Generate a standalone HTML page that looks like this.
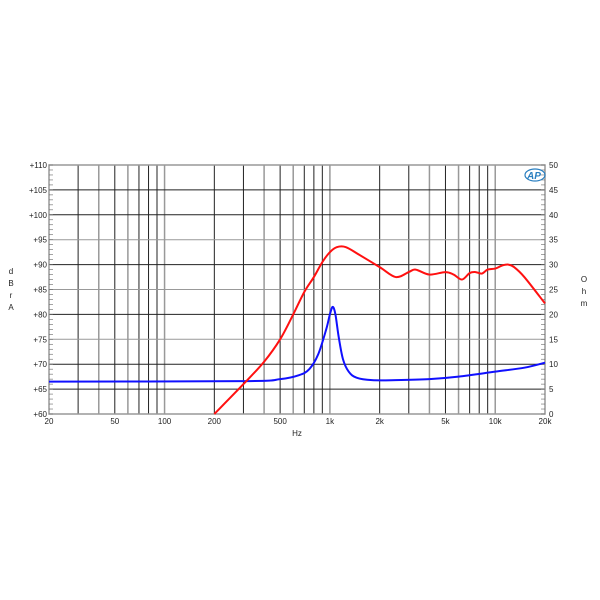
<!DOCTYPE html><html><head><style>body{margin:0;background:#fff}svg{display:block}text{font-family:"Liberation Sans",sans-serif;font-size:8px;fill:#222}</style></head><body>
<svg id="s" width="600" height="600" xmlns="http://www.w3.org/2000/svg"></svg>
<script>
const L=49,R=545,T=165,B=414;
const X=f=>L+(Math.log10(f)-Math.log10(20))/3*(R-L);
const Yd=d=>B-(d-60)/50*(B-T);
const Yo=o=>B-o/50*(B-T);
let h='';
// vertical grid
const fs=[30,40,50,60,70,80,90,100,200,300,400,500,600,700,800,900,1000,2000,3000,4000,5000,6000,7000,8000,9000,10000];
const grey=[40,60,100,400,600,1000,4000,6000,10000];
fs.forEach(f=>{const g=grey.includes(f);h+=`<line x1="${X(f)}" x2="${X(f)}" y1="${T}" y2="${B}" stroke="${g?'#999':'#222'}" stroke-width="${g?1.5:1}"/>`});
for(let d=65;d<110;d+=5){const g=(d%10==5&&d!=105)||d==95;h+=`<line x1="${L}" x2="${R}" y1="${Yd(d)}" y2="${Yd(d)}" stroke="${(d==95||d==85||d==75)?'#999':'#222'}" stroke-width="1"/>`}
h+=`<rect x="${L}" y="${T}" width="${R-L}" height="${B-T}" fill="none" stroke="#999" stroke-width="1.5"/>`;
// minor ticks
for(let i=0;i<=50;i++){const y=B-i*(B-T)/50;h+=`<line x1="${L}" x2="${L+4}" y1="${y}" y2="${y}" stroke="#666" stroke-width=".6"/><line x1="${R-4}" x2="${R}" y1="${y}" y2="${y}" stroke="#666" stroke-width=".6"/>`}
for(let d=60;d<=110;d+=5){h+=`<text x="47" y="${Yd(d)+3}" text-anchor="end">+${d}</text>`}
for(let o=0;o<=50;o+=5){h+=`<text x="549" y="${Yo(o)+3}">${o}</text>`}
[[20,'20'],[50,'50'],[100,'100'],[200,'200'],[500,'500'],[1000,'1k'],[2000,'2k'],[5000,'5k'],[10000,'10k'],[20000,'20k']].forEach(([f,t])=>h+=`<text x="${X(f)}" y="424" text-anchor="middle">${t}</text>`);
h+=`<text x="297" y="436" text-anchor="middle">Hz</text>`;
['d','B','r','A'].forEach((c,i)=>h+=`<text x="11" y="${274+i*12}" text-anchor="middle">${c}</text>`);
['O','h','m'].forEach((c,i)=>h+=`<text x="584" y="${282+i*12}" text-anchor="middle">${c}</text>`);
h+=`<text x="534" y="179" text-anchor="middle" style="font-size:10px;font-weight:bold;font-style:italic;fill:#2a7fc0">AP</text><ellipse cx="535" cy="175" rx="10" ry="6" fill="none" stroke="#2a7fc0" stroke-width="1.2"/>`;
function path(pts,Y,col){pts=pts.map(p=>[X(p[0]),Y(p[1])]);let d='M'+pts[0];for(let i=0;i<pts.length-1;i++){const p0=pts[i-1]||pts[i],p1=pts[i],p2=pts[i+1],p3=pts[i+2]||p2;d+=` C${p1[0]+(p2[0]-p0[0])/6},${p1[1]+(p2[1]-p0[1])/6} ${p2[0]-(p3[0]-p1[0])/6},${p2[1]-(p3[1]-p1[1])/6} ${p2[0]},${p2[1]}`}return `<path d="${d}" fill="none" stroke="${col}" stroke-width="2"/>`}
const red=[[200,60],[300,66],[400,70.5],[500,75],[600,80],[700,84.5],[800,87.5],[900,90.5],[1000,92.5],[1100,93.5],[1250,93.5],[1500,92],[2000,89.5],[2500,87.5],[3000,88.5],[3300,89],[4000,88],[5000,88.5],[5600,88],[6300,87],[7000,88.3],[7600,88.5],[8300,88.2],[9000,89],[10000,89.2],[11000,89.8],[12000,90],[13000,89.5],[15000,87.5],[20000,82.2]];
const blue=[[20,6.5],[300,6.6],[500,7],[650,7.8],[750,9],[850,12],[950,17],[1000,20],[1040,21.5],[1080,20],[1130,15.5],[1200,11],[1300,8.5],[1450,7.3],[1800,6.8],[2500,6.8],[4000,7],[6000,7.5],[10000,8.5],[15000,9.3],[20000,10.3]];
h+=path(blue,Yo,'#1010ff')+path(red,Yd,'#ff1010');
document.getElementById('s').innerHTML=h;
</script></body></html>
